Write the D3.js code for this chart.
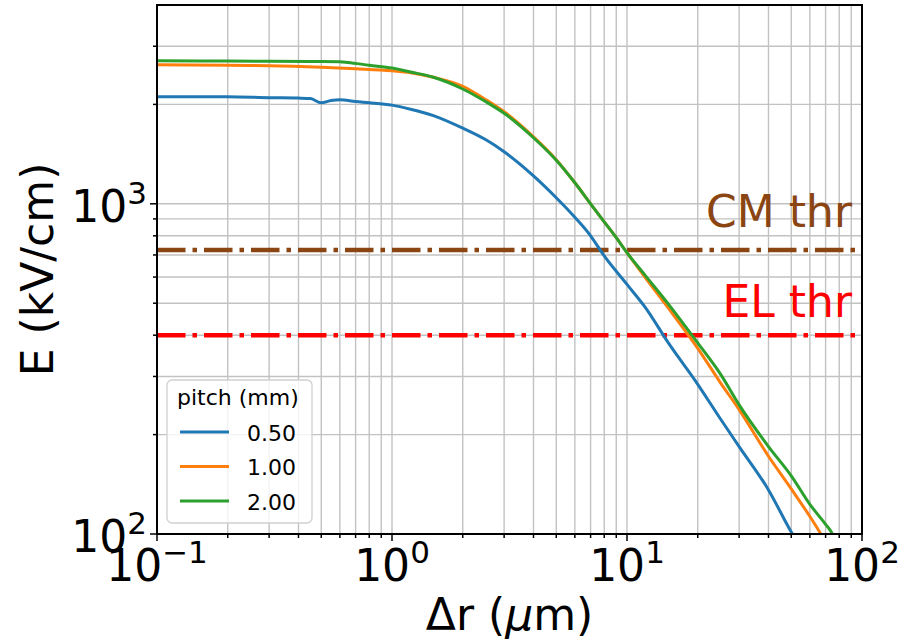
<!DOCTYPE html>
<html>
<head>
<meta charset="utf-8">
<script src="https://cdn.jsdelivr.net/npm/d3@7"></script>
<style>
  html, body { margin: 0; padding: 0; background: #fff; }
  svg { display: block; font-family: "DejaVu Sans", sans-serif; }
</style>
</head>
<body>
<svg id="chart" width="914" height="641"></svg>
<script>
// Field strength E vs. distance Δr for three pitches
const pitchLabels = ["0.50", "1.00", "2.00"];
const seriesColors = ["#1f77b4", "#ff7f0e", "#2ca02c"];

const dr050 = [0.1, 0.2, 0.3, 0.4, 0.45, 0.5, 0.55, 0.6, 0.7, 0.8, 1, 1.2, 1.5, 2, 2.5, 3, 4, 5, 6, 7, 8, 10, 12, 15, 20, 25, 30, 40, 50, 51];
const e050  = [2110, 2110, 2096, 2090, 2083, 2022, 2054, 2067, 2040, 2024, 1990, 1934, 1850, 1695, 1565, 1438, 1215, 1043, 910, 800, 695, 570, 484, 379, 284, 223, 184, 136, 101.4, 99];

const dr100 = [0.1, 0.2, 0.3, 0.5, 0.7, 1, 1.2, 1.5, 2, 2.5, 3, 4, 5, 6, 7, 8, 9, 10, 12, 15, 20, 25, 30, 40, 50, 60, 66, 67];
const e100  = [2638, 2627, 2620, 2592, 2565, 2529, 2495, 2417, 2270, 2070, 1900, 1595, 1360, 1158, 1000, 882, 790, 711, 596, 483, 365, 287, 238, 172, 137, 113, 101.4, 99.5];

const dr200 = [0.1, 0.2, 0.3, 0.5, 0.6, 0.65, 0.8, 1, 1.2, 1.5, 2, 2.5, 3, 4, 5, 6, 7, 8, 9, 10, 12, 15, 20, 25, 30, 40, 50, 60, 70, 74, 75];
const e200  = [2713, 2705, 2703, 2697, 2694, 2680, 2628, 2577, 2507, 2417, 2227, 2040, 1880, 1585, 1355, 1158, 1000, 882, 790, 711, 605, 497, 379, 305, 246, 184, 150, 123, 107, 101.4, 99.5];

// Threshold fields (kV/cm)
const thresholds = [
  { name: "CM thr", value: 725, color: "#8b4513" },
  { name: "EL thr", value: 400, color: "#ff0000" }
];

const xMajor = [0.1, 1, 10, 100];
const xExp = ["\u22121", "0", "1", "2"];
const yMajor = [100, 1000];
const yExp = ["2", "3"];

const series = [
  { label: pitchLabels[0], color: seriesColors[0], dr: dr050, e: e050 },
  { label: pitchLabels[1], color: seriesColors[1], dr: dr100, e: e100 },
  { label: pitchLabels[2], color: seriesColors[2], dr: dr200, e: e200 }
];

const plot = { left: 157, right: 862, top: 5, bottom: 534 };
const svg = d3.select("#chart");

const x = d3.scaleLog().domain([0.1, 100]).range([plot.left, plot.right]);
const y = d3.scaleLog().domain([100, 4000]).range([plot.bottom, plot.top]);

// Minor tick positions: 2..9 within each decade
function minorTicks(lo, hi) {
  const out = [];
  for (let d = lo; d < hi; d *= 10) {
    for (let k = 2; k <= 9; k++) {
      const v = d * k;
      if (v < hi) out.push(v);
    }
  }
  return out;
}
const xMinor = minorTicks(0.1, 100);
const yMinor = minorTicks(100, 4000);

// Grid
const grid = svg.append("g").attr("stroke", "#c2c2c2").attr("stroke-width", 1.4);
xMajor.concat(xMinor).forEach(v => {
  grid.append("line").attr("x1", x(v)).attr("x2", x(v)).attr("y1", plot.top).attr("y2", plot.bottom);
});
yMajor.concat(yMinor).forEach(v => {
  grid.append("line").attr("y1", y(v)).attr("y2", y(v)).attr("x1", plot.left).attr("x2", plot.right);
});

svg.append("clipPath").attr("id", "clip")
  .append("rect")
  .attr("x", plot.left).attr("y", plot.top)
  .attr("width", plot.right - plot.left).attr("height", plot.bottom - plot.top);

const body = svg.append("g").attr("clip-path", "url(#clip)");

// Threshold lines
thresholds.forEach(t => {
  body.append("line")
    .attr("x1", plot.left).attr("x2", plot.right)
    .attr("y1", y(t.value)).attr("y2", y(t.value))
    .attr("stroke", t.color).attr("stroke-width", 4.5)
    .attr("stroke-dasharray", "28.5,7,4.5,7");
});

// Curves
const line = d3.line().x(d => x(d[0])).y(d => y(d[1])).curve(d3.curveMonotoneX);
series.forEach(s => {
  body.append("path")
    .datum(s.dr.map((v, i) => [v, s.e[i]]))
    .attr("d", line)
    .attr("fill", "none")
    .attr("stroke", s.color)
    .attr("stroke-width", 3)
    .attr("stroke-linejoin", "round");
});

// Threshold labels
svg.append("text")
  .attr("x", 852).attr("y", y(thresholds[0].value) - 23)
  .attr("text-anchor", "end").attr("font-size", 44)
  .attr("fill", thresholds[0].color).text(thresholds[0].name);
svg.append("text")
  .attr("x", 852).attr("y", y(thresholds[1].value) - 18)
  .attr("text-anchor", "end").attr("font-size", 44)
  .attr("fill", thresholds[1].color).text(thresholds[1].name);

// Ticks
const ticks = svg.append("g").attr("stroke", "#000").attr("stroke-width", 1.5);
xMajor.forEach(v => ticks.append("line").attr("x1", x(v)).attr("x2", x(v)).attr("y1", plot.bottom).attr("y2", plot.bottom + 7));
xMinor.forEach(v => ticks.append("line").attr("x1", x(v)).attr("x2", x(v)).attr("y1", plot.bottom).attr("y2", plot.bottom + 4));
yMajor.forEach(v => ticks.append("line").attr("y1", y(v)).attr("y2", y(v)).attr("x1", plot.left).attr("x2", plot.left - 7));
yMinor.forEach(v => ticks.append("line").attr("y1", y(v)).attr("y2", y(v)).attr("x1", plot.left).attr("x2", plot.left - 4));

// Frame
svg.append("rect")
  .attr("x", plot.left).attr("y", plot.top)
  .attr("width", plot.right - plot.left).attr("height", plot.bottom - plot.top)
  .attr("fill", "none").attr("stroke", "#000").attr("stroke-width", 2);

// Tick labels (powers of ten)
function powLabel(sel, exp) {
  sel.append("tspan").text("10");
  sel.append("tspan").attr("dy", -18).attr("font-size", 31).text(exp);
}
xMajor.forEach((v, i) => {
  const t = svg.append("text")
    .attr("x", x(v)).attr("y", 581)
    .attr("text-anchor", "middle").attr("font-size", 44).attr("fill", "#000");
  powLabel(t, xExp[i]);
});
yMajor.forEach((v, i) => {
  const t = svg.append("text")
    .attr("x", 147).attr("y", y(v) + 18)
    .attr("text-anchor", "end").attr("font-size", 44).attr("fill", "#000");
  powLabel(t, yExp[i]);
});

// Axis titles
const xt = svg.append("text")
  .attr("x", (plot.left + plot.right) / 2).attr("y", 630)
  .attr("text-anchor", "middle").attr("font-size", 44).attr("fill", "#000");
xt.append("tspan").text("\u0394r (");
xt.append("tspan").attr("font-style", "italic").text("\u03bc");
xt.append("tspan").text("m)");

svg.append("text")
  .attr("transform", `translate(53, ${(plot.top + plot.bottom) / 2}) rotate(-90)`)
  .attr("text-anchor", "middle").attr("font-size", 44).attr("fill", "#000")
  .text("E (kV/cm)");

// Legend
const lg = svg.append("g");
lg.append("rect")
  .attr("x", 167).attr("y", 380).attr("width", 145).attr("height", 143)
  .attr("rx", 5).attr("fill", "#fff").attr("fill-opacity", 0.8)
  .attr("stroke", "#d0d0d0").attr("stroke-width", 1.3);
lg.append("text").attr("x", 177).attr("y", 405)
  .attr("font-size", 22).attr("fill", "#000").text("pitch (mm)");
series.forEach((s, i) => {
  const yy = 432 + i * 34.5;
  lg.append("line").attr("x1", 180).attr("x2", 229).attr("y1", yy).attr("y2", yy)
    .attr("stroke", s.color).attr("stroke-width", 3);
  lg.append("text").attr("x", 247).attr("y", yy + 8.5)
    .attr("font-size", 22).attr("fill", "#000").text(s.label);
});
</script>
</body>
</html>
